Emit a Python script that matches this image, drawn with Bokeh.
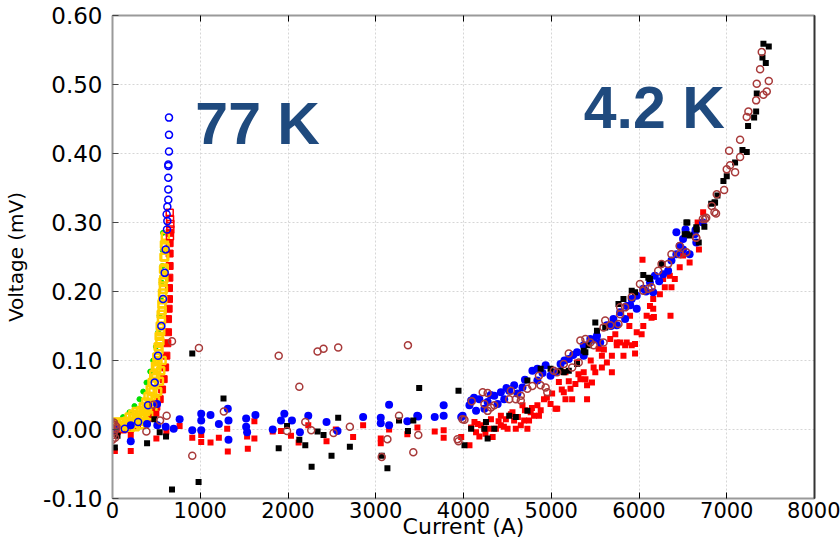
from bokeh.plotting import figure
from bokeh.models import Range1d, FixedTicker, NumeralTickFormatter, LinearAxis, Label
from bokeh.embed import file_html
from bokeh.resources import INLINE

# ---------------- data ----------------
x_ticks = [0, 1000, 2000, 3000, 4000, 5000, 6000, 7000, 8000]
y_ticks = [-0.1, 0.0, 0.1, 0.2, 0.3, 0.4, 0.5, 0.6]

# 4.2 K, red filled squares
red_I = [27, 208, 208, 500, 500, 614, 765, 909, 1011, 1011, 1117, 1212, 1314, 1307, 1534, 1542,
         1617, 1617, 1826, 1920, 2034, 2121, 2231, 2439, 2545, 2742, 2856, 3057, 3057, 3152, 3360,
         3475, 3672, 3774, 3774, 4068,
         3974, 4087, 4143, 4181, 4238, 4332, 4370, 4426, 4502, 4577, 4653, 4747, 4804, 4860, 4766,
         4691, 4596, 4483, 4313, 4200, 4125, 4992, 5068, 5162, 5219, 5275, 5332, 5408, 5464, 5483,
         5577, 5634, 5691, 5747, 5785, 5842, 5917, 5955, 6030, 6087, 6143, 6162, 6238, 6294, 6370,
         6408, 6464, 6502, 6577, 6683, 6731, 6040, 6359, 6170, 6049, 5898, 5823, 5672, 5577, 5540,
         5370, 5294, 5162, 5087, 5143, 4917, 5049, 4842, 4672, 4558, 4426, 4294, 4728, 5238, 5408,
         5502, 5691, 5747, 5860, 5955, 5974, 6125, 6162, 6275, 6351, 6502, 6668,
         4160, 4250, 4400, 4460, 4540, 4620, 4700, 4780, 4880, 4950, 5010, 5120, 5200, 5310, 5390,
         5450, 5600, 5730, 5890]
red_V = [-0.031, -0.031, -0.008, 0.023, -0.013, -0.003, 0.005, -0.012, -0.008, -0.018, -0.019,
         -0.012, -0.032, 0.001, -0.010, -0.028, -0.013, 0.012, -0.003, -0.002, -0.009, -0.019,
         0.006, -0.017, 0.000, -0.011, 0.006, -0.013, -0.020, 0.000, -0.007, 0.003, -0.003,
         -0.001, -0.012, -0.023,
         -0.011, 0.003, -0.004, -0.010, 0.001, -0.011, 0.001, 0.006, 0.001, 0.013, 0.006, 0.013,
         0.020, 0.020, 0.025, 0.013, 0.001, 0.015, 0.015, 0.006, 0.011, 0.037, 0.030, 0.044, 0.059,
         0.066, 0.073, 0.064, 0.068, 0.090, 0.090, 0.097, 0.107, 0.122, 0.126, 0.122, 0.122, 0.110,
         0.138, 0.165, 0.162, 0.175, 0.196, 0.206, 0.206, 0.218, 0.235, 0.252, 0.242, 0.261, 0.315,
         0.246, 0.165, 0.163, 0.150, 0.165, 0.107, 0.131, 0.107, 0.117, 0.083, 0.097, 0.083, 0.069,
         0.054, 0.044, 0.030, 0.035, 0.035, 0.025, 0.020, 0.001, 0.001, 0.044, 0.044, 0.083, 0.083,
         0.126, 0.126, 0.124, 0.141, 0.179, 0.189, 0.218, 0.223, 0.276, 0.300,
         0.008, -0.006, 0.012, 0.004, 0.022, 0.018, 0.028, 0.031, 0.028, 0.046, 0.052, 0.058, 0.070,
         0.080, 0.073, 0.100, 0.116, 0.138, 0.150]

# 4.2 K, blue filled circles
blue_I = [27, 208, 208, 394, 508, 511, 606, 697, 765, 909, 1011, 1011, 1011, 1117, 1212, 1314, 1322,
          1322, 1523, 1523, 1534, 1629, 1826, 1920, 1958, 2045, 2136, 2231, 2439, 2564, 2856, 3057,
          3057, 3152, 3152, 3360, 3473, 3483, 3672, 3774, 3774, 3974,
          3990, 4068, 4087, 4143, 4181, 4275, 4351, 4426, 4464, 4521, 4615, 4672, 4785, 4842, 4936,
          4992, 5106, 5200, 5294, 5370, 5445, 5521, 5634, 5709, 5785, 5860, 5917, 5974, 6049, 6125,
          6181, 6275, 6370, 6426, 6464, 6502, 6653, 6577, 6634, 6728, 6426, 4238, 4389, 4577, 4842,
          5049, 5370, 5558, 5747, 5842, 5974, 6162, 6332, 6502, 6644, 6530,
          4120, 4310, 4490, 4700, 4900, 5150, 5250, 5480, 5680, 5900, 6080, 6230]
blue_V = [-0.001, 0.006, -0.017, 0.008, 0.037, 0.006, 0.004, 0.001, 0.015, -0.001, 0.023, 0.013,
          -0.001, 0.021, 0.008, 0.030, 0.013, -0.015, 0.016, 0.004, -0.004, 0.021, 0.000, 0.013,
          0.023, 0.013, -0.004, 0.020, 0.011, -0.002, 0.018, 0.017, 0.009, 0.036, 0.006, 0.012,
          0.020, 0.019, 0.018, 0.020, 0.035, 0.018,
          0.020, 0.035, 0.042, 0.027, 0.044, 0.040, 0.049, 0.054, 0.044, 0.056, 0.052, 0.061, 0.085,
          0.071, 0.093, 0.078, 0.095, 0.102, 0.112, 0.122, 0.131, 0.136, 0.151, 0.160, 0.170, 0.179,
          0.189, 0.194, 0.204, 0.213, 0.223, 0.225, 0.245, 0.254, 0.266, 0.276, 0.271, 0.254, 0.283,
          0.300, 0.286, 0.030, 0.037, 0.064, 0.088, 0.083, 0.107, 0.126, 0.151, 0.160, 0.175, 0.199,
          0.230, 0.261, 0.289, 0.290,
          0.046, 0.050, 0.060, 0.072, 0.082, 0.100, 0.108, 0.130, 0.150, 0.180, 0.200, 0.215]

# 4.2 K, black filled squares
black_I = [678, 909, 981, 1265, 538, 610, 394, 477, 1894, 1989, 2129, 2197, 2269, 2337, 2405, 2496,
           2572, 2705, 3068, 3133, 3265, 3367, 3428, 3495, 27, 57, 3943, 4011,
           4087, 4238, 4275, 4256, 4351, 4521, 4596, 4728, 4728, 4879, 4992, 5106, 5200, 5294, 5389,
           5502, 5521, 5615, 5766, 5823, 5917, 5955, 6049, 6106, 6125, 6257, 6540, 6521, 6577, 6653,
           6823, 6860, 5370, 5426, 5143,
           7418, 7479, 7407, 7445, 7342, 7335, 7312, 7243, 7179, 7228, 7095, 7000, 6962, 6894, 6867,
           6745, 6551, 6658, 6681, 6551]
black_V = [-0.087, 0.110, -0.076, 0.045, -0.004, -0.010, -0.020, 0.015, -0.027, 0.005, -0.015,
           -0.023, -0.054, -0.003, -0.008, -0.038, 0.017, -0.025, -0.038, -0.056, 0.013, -0.002,
           0.013, 0.060, -0.026, -0.009, 0.056, -0.023,
           0.001, 0.001, -0.013, 0.011, 0.001, 0.020, 0.018, 0.027, 0.071, 0.088, 0.088, 0.085, 0.085,
           0.095, 0.112, 0.155, 0.143, 0.148, 0.182, 0.189, 0.201, 0.199, 0.224, 0.220, 0.218, 0.240,
           0.300, 0.283, 0.281, 0.293, 0.327, 0.329, 0.114, 0.122, 0.083,
           0.559, 0.555, 0.539, 0.531, 0.487, 0.461, 0.452, 0.440, 0.405, 0.402, 0.387, 0.367, 0.360,
           0.339, 0.329, 0.294, 0.300, 0.290, 0.271, 0.283]

# 4.2 K, brown open circles
brown_I = [678, 985, 1894, 2129, 2337, 2405, 2572, 3367, 909, 3068, 3133, 3428, 3265, 2705, 2519,
           2265, 2197, 1989, 1269, 617, 542, 466, 386, 3485, 3943, 4011,
           0, 15, 30, 45, 0, 20, 40, 10, 30, 0,
           3989, 3932, 4094, 4219, 4275, 4238, 4275, 4313, 4351, 4540, 4521, 4596, 4653, 4653, 4728,
           4785, 4860, 4879, 4936, 4955, 5030, 5068, 5143, 5200, 5238, 5313, 5332, 5389, 5445, 5483,
           5596, 5596, 5615, 5672, 5766, 5785, 5785, 5842, 5917, 6011, 6049, 6106, 6143, 6219, 6257,
           6332, 6370, 6464, 6540, 6464, 6653, 6728, 6766, 6860,
           7399, 7380, 7342, 7479, 7456, 7418, 7335, 7247, 7228, 7152, 7027, 7152, 7038, 7000, 7095,
           6970, 6886, 6829, 6878, 6753, 6650]
brown_V = [0.128, 0.118, 0.107, 0.062, 0.113, 0.117, 0.119, 0.122, -0.038, -0.040, -0.014, -0.033,
           0.020, 0.004, -0.005, -0.001, 0.011, -0.002, 0.026, 0.020, 0.013, 0.036, -0.003, -0.008,
           -0.017, 0.014,
           0.008, 0.010, 0.006, 0.004, 0.000, -0.003, 0.001, -0.008, -0.012, -0.015,
           0.015, -0.014, 0.041, 0.054, 0.053, 0.037, 0.027, 0.032, 0.035, 0.056, 0.044, 0.044, 0.049,
           0.042, 0.059, 0.063, 0.078, 0.064, 0.061, 0.054, 0.085, 0.083, 0.095, 0.110, 0.090, 0.097,
           0.129, 0.131, 0.126, 0.122, 0.126, 0.148, 0.158, 0.151, 0.153, 0.167, 0.177, 0.177, 0.192,
           0.211, 0.201, 0.204, 0.206, 0.230, 0.240, 0.240, 0.254, 0.254, 0.257, 0.266, 0.278, 0.305,
           0.307, 0.315,
           0.547, 0.522, 0.501, 0.505, 0.490, 0.485, 0.477, 0.461, 0.453, 0.420, 0.404, 0.395, 0.383,
           0.377, 0.373, 0.347, 0.341, 0.324, 0.313, 0.305, 0.278]

# 77 K, blue open circles
k77_blue_I = [644, 644, 644, 636, 636, 636, 636, 636, 625, 617, 625, 621, 606, 595, 576, 557, 519,
              481, 405, 292, 140, 27]
k77_blue_V = [0.452, 0.427, 0.403, 0.384, 0.382, 0.365, 0.348, 0.333, 0.323, 0.312, 0.302, 0.290,
              0.261, 0.227, 0.189, 0.150, 0.107, 0.068, 0.035, 0.011, 0.001, 0.000]

# 77 K, red filled squares (right edge of the band)
k77_red_I = [651, 651, 651, 651, 648, 644, 644, 640, 633, 633, 625, 614, 600, 583, 565, 538, 500,
             462, 410, 348, 280, 197, 120, 50]
k77_red_V = [0.285, 0.270, 0.255, 0.237, 0.220, 0.205, 0.189, 0.175, 0.160, 0.141, 0.125, 0.107,
             0.090, 0.073, 0.058, 0.044, 0.033, 0.025, 0.017, 0.011, 0.006, 0.001, 0.000, -0.002]

# 77 K, red open squares (top of the band)
k77_redo_I = [652, 656, 659, 659, 655]
k77_redo_V = [0.314, 0.305, 0.298, 0.290, 0.280]

# 77 K, yellow open squares
k77_yel_I = [0, 25, 50, 80, 110, 140, 170, 200, 230, 260, 290, 320, 350, 380, 400, 420, 440, 460,
             475, 490, 505, 518, 530, 540, 550, 558, 566, 573, 580, 585, 590, 595, 598, 602,
             200, 260, 320, 370, 420, 460, 490, 515, 535, 550, 565,
             0, 40, 80, 120, 160, 190, 240, 280, 320, 350, 380, 405, 430, 450, 470, 490, 505, 520,
             532, 544, 555, 563, 570, 576, 582, 587, 592, 230, 270]
k77_yel_V = [0.004, 0.003, 0.005, 0.004, 0.006, 0.005, 0.007, 0.008, 0.009, 0.011, 0.013, 0.016,
             0.020, 0.026, 0.032, 0.038, 0.046, 0.055, 0.065, 0.075, 0.088, 0.100, 0.115, 0.128,
             0.142, 0.158, 0.172, 0.188, 0.203, 0.218, 0.234, 0.250, 0.265, 0.280,
             0.002, 0.004, 0.007, 0.012, 0.020, 0.030, 0.042, 0.055, 0.070, 0.085, 0.100,
             0.010, 0.011, 0.010, 0.011, 0.012, 0.018, 0.017, 0.021, 0.027, 0.033, 0.040, 0.048,
             0.058, 0.068, 0.080, 0.092, 0.105, 0.120, 0.135, 0.150, 0.167, 0.182, 0.198, 0.214,
             0.232, 0.250, 0.268, 0.022, 0.026]

# 77 K, green filled points (left edge of the band)
k77_grn_I = [40, 120, 193, 250, 307, 350, 387, 430, 463, 495, 520, 536, 550, 560, 568, 572, 576]
k77_grn_V = [0.012, 0.018, 0.025, 0.034, 0.044, 0.055, 0.068, 0.084, 0.100, 0.120, 0.141, 0.165,
             0.189, 0.213, 0.237, 0.260, 0.285]

label_77 = ("77 K", 944, 0.443)
label_42 = ("4.2 K", 5370, 0.466)

# ---------------- figure ----------------
p = figure(width=840, height=541, output_backend="svg", toolbar_location=None,
           x_range=Range1d(0, 8000), y_range=Range1d(-0.1, 0.6),
           min_border_left=111, min_border_right=26, min_border_top=15, min_border_bottom=42,
           x_axis_location="below", y_axis_location="left")
p.outline_line_color = None
p.background_fill_color = "white"
p.border_fill_color = "white"

TICK_FONT = "DejaVu Sans"
xa = p.xaxis[0]
xa.ticker = FixedTicker(ticks=x_ticks)
xa.major_label_text_font = TICK_FONT
xa.major_label_text_font_size = "21px"
xa.major_label_text_color = "black"
xa.major_label_standoff = 3
xa.axis_line_color = "#9a9a9a"
xa.axis_line_width = 2
xa.major_tick_in = 6
xa.major_tick_out = 0
xa.major_tick_line_color = "black"
xa.minor_tick_line_color = None
xa.axis_label = "Current (A)"
xa.axis_label_text_font = TICK_FONT
xa.axis_label_text_font_size = "22px"
xa.axis_label_text_font_style = "normal"
xa.axis_label_text_color = "black"
xa.axis_label_standoff = -7

ya = p.yaxis[0]
ya.ticker = FixedTicker(ticks=y_ticks)
ya.formatter = NumeralTickFormatter(format="0.00")
ya.major_label_text_font = TICK_FONT
ya.major_label_text_font_size = "23px"
ya.major_label_text_color = "black"
ya.major_label_standoff = 10
ya.axis_line_color = "#9a9a9a"
ya.axis_line_width = 2
ya.major_tick_in = 6
ya.major_tick_out = 0
ya.major_tick_line_color = "#444444"
ya.minor_tick_line_color = None
ya.axis_label = "Voltage (mV)"
ya.axis_label_text_font = TICK_FONT
ya.axis_label_text_font_size = "20px"
ya.axis_label_text_font_style = "normal"
ya.axis_label_text_color = "black"
ya.axis_label_standoff = 12

top = LinearAxis(ticker=FixedTicker(ticks=x_ticks), axis_line_color="#9a9a9a", axis_line_width=2,
                 major_tick_in=6, major_tick_out=0, major_tick_line_color="black",
                 minor_tick_line_color=None, major_label_text_font_size="0px",
                 major_label_standoff=0)
p.add_layout(top, "above")
right = LinearAxis(ticker=FixedTicker(ticks=y_ticks), axis_line_color="#333333", axis_line_width=2,
                   major_tick_line_color=None, minor_tick_line_color=None,
                   major_label_text_font_size="0px", major_label_standoff=0)
p.add_layout(right, "right")

p.xgrid.ticker = FixedTicker(ticks=x_ticks)
p.ygrid.ticker = FixedTicker(ticks=y_ticks)
for g in (p.xgrid, p.ygrid):
    g.grid_line_color = "#d6d6d6"
    g.grid_line_dash = "2 2"
    g.grid_line_width = 1

# 77 K series
p.scatter(k77_red_I, k77_red_V, marker="square", size=7, fill_color="#ff0000", line_color="#ff0000")
p.scatter(k77_grn_I, k77_grn_V, marker="circle", size=5, fill_color="#00e000", line_color="#00e000")
p.scatter(k77_yel_I, k77_yel_V, marker="square", size=7, fill_color=None, line_color="#ffd000",
          line_width=2.5)
p.scatter(k77_redo_I, k77_redo_V, marker="square", size=7, fill_color=None, line_color="#ff0000",
          line_width=1.5)
p.scatter(k77_blue_I, k77_blue_V, marker="circle", size=7, fill_color=None, line_color="#0000ff",
          line_width=1.5)

# 4.2 K series
p.scatter(red_I, red_V, marker="square", size=6, fill_color="#ff0000", line_color=None)
p.scatter(blue_I, blue_V, marker="circle", size=8, fill_color="#0000ff", line_color=None)
p.scatter(black_I, black_V, marker="square", size=6, fill_color="black", line_color=None)
p.scatter(brown_I, brown_V, marker="circle", size=7, fill_color=None, line_color="#a83a3a",
          line_width=1.5)

for txt, lx, ly in (label_77, label_42):
    p.add_layout(Label(x=lx, y=ly, text=txt, text_font="Liberation Sans", text_font_style="bold",
                       text_font_size="59px", text_color="#1f4a7e", text_baseline="alphabetic",
                       text_align="left"))

open("out.html", "w").write(file_html(p, INLINE))
